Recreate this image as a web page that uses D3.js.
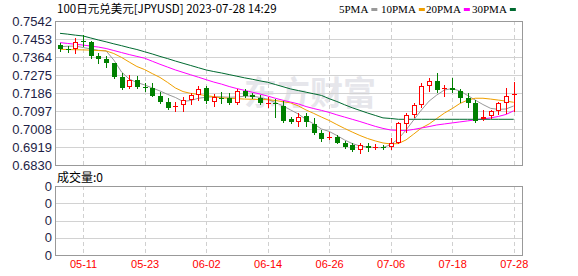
<!DOCTYPE html>
<html>
<head>
<meta charset="utf-8">
<script src="https://cdn.jsdelivr.net/npm/d3@7/dist/d3.min.js"></script>
<style>
body { margin: 0; background: #fff; }
</style>
</head>
<body>
<div id="chart"></div>
<script>
// trading days shown on the chart
var dates = ["05-08","05-09","05-10","05-11","05-12","05-15","05-16","05-17","05-18","05-19",
  "05-22","05-23","05-24","05-25","05-26","05-29","05-30","05-31","06-01","06-02",
  "06-05","06-06","06-07","06-08","06-09","06-12","06-13","06-14","06-15","06-16",
  "06-19","06-20","06-21","06-22","06-23","06-26","06-27","06-28","06-29","06-30",
  "07-03","07-04","07-05","07-06","07-07","07-10","07-11","07-12","07-13","07-14",
  "07-17","07-18","07-19","07-20","07-21","07-24","07-25","07-26","07-27","07-28"];

var openP  = [.7422,.7404,.7406,.7443,.7438,.7370,.7353,.7333,.7264,.7214,
  .7250,.7217,.7212,.7171,.7143,.7115,.7127,.7151,.7176,.7209,
  .7143,.7160,.7160,.7138,.7197,.7176,.7160,.7135,.7138,.7122,
  .7055,.7041,.7072,.7031,.6990,.6967,.6970,.6940,.6929,.6904,
  .6924,.6913,.6918,.6918,.6940,.7031,.7077,.7127,.7222,.7245,
  .7204,.7209,.7197,.7160,.7138,.7056,.7072,.7098,.7135,.7175];
var highP  = [.7435,.7418,.7457,.7475,.7442,.7382,.7369,.7336,.7286,.7275,
  .7270,.7234,.7237,.7192,.7160,.7140,.7168,.7185,.7221,.7221,
  .7181,.7189,.7187,.7204,.7206,.7187,.7176,.7165,.7155,.7148,
  .7067,.7086,.7086,.7061,.7003,.6995,.6978,.6949,.6937,.6937,
  .6940,.6934,.6929,.6962,.7044,.7086,.7138,.7237,.7259,.7283,
  .7226,.7259,.7204,.7185,.7151,.7102,.7102,.7143,.7209,.7242];
var lowP   = [.7395,.7390,.7385,.7416,.7359,.7336,.7316,.7259,.7206,.7209,
  .7209,.7197,.7171,.7135,.7105,.7098,.7098,.7130,.7151,.7138,
  .7122,.7135,.7132,.7132,.7168,.7160,.7130,.7118,.7069,.7041,
  .7040,.7024,.7023,.6983,.6950,.6959,.6937,.6916,.6901,.6891,
  .6901,.6908,.6908,.6908,.6937,.6995,.7066,.7118,.7197,.7189,
  .7173,.7189,.7143,.7118,.7044,.7053,.7061,.7082,.7086,.7098];
var closeP = [.7406,.7399,.7440,.7438,.7370,.7353,.7336,.7264,.7212,.7250,
  .7217,.7211,.7173,.7140,.7113,.7120,.7151,.7176,.7206,.7148,
  .7165,.7155,.7135,.7196,.7173,.7168,.7135,.7138,.7130,.7049,
  .7045,.7066,.7044,.6987,.6959,.6970,.6940,.6921,.6904,.6929,
  .6913,.6918,.6913,.6937,.7036,.7077,.7127,.7221,.7245,.7201,
  .7209,.7201,.7160,.7138,.7049,.7066,.7097,.7135,.7171,.7181];

var ma5  = [.7415,.7417,.7418,.7411,.7404,.7397,.7394,.7349,.7290,.7255,
  .7238,.7226,.7211,.7196,.7179,.7164,.7144,.7149,.7160,.7165,
  .7167,.7167,.7165,.7166,.7170,.7171,.7164,.7155,.7139,.7122,
  .7102,.7082,.7055,.7033,.7008,.6996,.6976,.6954,.6936,.6924,
  .6919,.6916,.6916,.6931,.6959,.7003,.7053,.7102,.7146,.7176,
  .7201,.7208,.7196,.7174,.7151,.7129,.7110,.7105,.7107,.7122];
var ma10 = [.7402,.7401,.7400,.7399,.7398,.7396,.7394,.7381,.7362,.7339,
  .7317,.7302,.7282,.7263,.7238,.7211,.7193,.7184,.7179,.7173,
  .7168,.7162,.7160,.7158,.7156,.7155,.7154,.7153,.7149,.7143,
  .7137,.7122,.7102,.7085,.7067,.7050,.7030,.7011,.6993,.6976,
  .6961,.6949,.6939,.6934,.6936,.6954,.6983,.7013,.7033,.7060,
  .7087,.7109,.7134,.7151,.7160,.7160,.7156,.7151,.7146,.7140];
var ma20 = [.7435,.7431,.7427,.7423,.7418,.7413,.7406,.7396,.7386,.7376,
  .7367,.7358,.7343,.7328,.7314,.7300,.7288,.7276,.7264,.7252,
  .7240,.7230,.7218,.7208,.7199,.7190,.7181,.7171,.7160,.7150,
  .7141,.7132,.7119,.7109,.7100,.7090,.7078,.7067,.7056,.7045,
  .7033,.7021,.7011,.7003,.7001,.7000,.7006,.7013,.7020,.7028,
  .7033,.7038,.7043,.7048,.7053,.7058,.7063,.7070,.7080,.7098];
var ma30 = [.7481,.7477,.7472,.7468,.7458,.7448,.7439,.7429,.7420,.7410,
  .7401,.7390,.7379,.7367,.7356,.7344,.7333,.7322,.7311,.7300,
  .7292,.7285,.7277,.7269,.7261,.7254,.7246,.7239,.7228,.7217,
  .7206,.7198,.7190,.7182,.7174,.7158,.7144,.7128,.7113,.7100,
  .7087,.7075,.7063,.7060,.7056,.7056,.7056,.7056,.7056,.7056,
  .7056,.7056,.7056,.7056,.7056,.7056,.7056,.7056,.7056,.7056];

var volume = [0,0,0,0,0,0,0,0,0,0, 0,0,0,0,0,0,0,0,0,0, 0,0,0,0,0,0,0,0,0,0,
  0,0,0,0,0,0,0,0,0,0, 0,0,0,0,0,0,0,0,0,0, 0,0,0,0,0,0,0,0,0,0];

var priceTicks = [0.7542, 0.7453, 0.7364, 0.7275, 0.7186, 0.7097, 0.7008, 0.6919, 0.6830];
var dateTicks = ["05-11","05-23","06-02","06-14","06-26","07-06","07-18","07-28"];
var volTicks = [0, 1, 2, 3, 4];
var volTickLabels = ["0","0","0","0","0"];
var maNames = ["5PMA","10PMA","20PMA","30PMA"];
var maColors = ["#999999","#f0a000","#ff00ff","#006a30"];

var W = 578, H = 276;
var left = 55, right = 522, top1 = 21, bot1 = 165, top2 = 186, bot2 = 255;
var UP = "#ff0000", DOWN = "#008000";
var labelFont = "'Liberation Sans', Arial, sans-serif";
var cjkFont = "'Noto Sans CJK SC', 'Liberation Sans', sans-serif";

var svg = d3.select("#chart").append("svg")
  .attr("width", W).attr("height", H)
  .style("font-family", labelFont);

var x = d3.scalePoint().domain(dates).range([60, 513.7]);
var y = d3.scaleLinear().domain([0.6830, 0.7542]).range([bot1, top1]);
var yv = d3.scaleLinear().domain([0, 4]).range([bot2, top2]);

// watermark
svg.append("text")
  .attr("x", 244).attr("y", 105)
  .style("font-family", cjkFont)
  .style("font-size", "33px")
  .style("font-weight", "bold")
  .attr("fill", "#e6e6eb")
  .text("东方财富");

// horizontal grid
svg.append("g").selectAll("line")
  .data(priceTicks.slice(1, -1))
  .enter().append("line")
    .attr("x1", left).attr("x2", right)
    .attr("y1", function(d) { return Math.round(y(d)) + 0.5; })
    .attr("y2", function(d) { return Math.round(y(d)) + 0.5; })
    .attr("stroke", "#d2d2d2");
svg.append("g").selectAll("line")
  .data(volTicks.slice(1, -1))
  .enter().append("line")
    .attr("x1", left).attr("x2", right)
    .attr("y1", function(d) { return Math.round(yv(d)) + 0.5; })
    .attr("y2", function(d) { return Math.round(yv(d)) + 0.5; })
    .attr("stroke", "#d2d2d2");

// vertical dashed grid, both panels
[[top1, bot1], [top2, bot2]].forEach(function(p) {
  svg.append("g").selectAll("line")
    .data(dateTicks)
    .enter().append("line")
      .attr("x1", function(d) { return Math.round(x(d)) + 0.5; })
      .attr("x2", function(d) { return Math.round(x(d)) + 0.5; })
      .attr("y1", p[0]).attr("y2", p[1])
      .attr("stroke", "#d0d0d0")
      .attr("stroke-dasharray", "4,3");
});

// moving averages
var maList = [ma5, ma10, ma20, ma30];
maList.forEach(function(ma, k) {
  svg.append("path")
    .datum(ma)
    .attr("fill", "none")
    .attr("stroke", maColors[k])
    .attr("stroke-width", 1)
    .attr("d", d3.line()
      .x(function(d, i) { return x(dates[i]); })
      .y(function(d) { return y(d); }));
});

// candles
var candles = svg.append("g").selectAll("g")
  .data(dates)
  .enter().append("g");

candles.each(function(d, i) {
  var g = d3.select(this);
  var up = closeP[i] >= openP[i];
  var col = up ? UP : DOWN;
  var px = Math.round(x(d));
  var yTop = Math.round(y(Math.max(openP[i], closeP[i])));
  var yBot = Math.round(y(Math.min(openP[i], closeP[i])));
  g.append("line")
    .attr("x1", px + 0.5).attr("x2", px + 0.5)
    .attr("y1", Math.round(y(highP[i]))).attr("y2", Math.round(y(lowP[i])) + 1)
    .attr("stroke", col);
  if (yBot - yTop < 2) {
    g.append("rect")
      .attr("x", px - 2).attr("width", 5)
      .attr("y", yTop).attr("height", Math.max(1, yBot - yTop))
      .attr("fill", col);
  } else if (up) {
    g.append("rect")
      .attr("x", px - 1.5).attr("width", 4)
      .attr("y", yTop + 0.5).attr("height", yBot - yTop - 1)
      .attr("fill", "#fff").attr("stroke", col);
  } else {
    g.append("rect")
      .attr("x", px - 2).attr("width", 5)
      .attr("y", yTop).attr("height", yBot - yTop)
      .attr("fill", col);
  }
});

// volume bars (all zero)
svg.append("g").selectAll("rect")
  .data(volume)
  .enter().append("rect")
    .attr("x", function(d, i) { return Math.round(x(dates[i])) - 2; })
    .attr("width", 5)
    .attr("y", function(d) { return yv(d); })
    .attr("height", function(d) { return bot2 - yv(d); })
    .attr("fill", DOWN);

// panel frames
svg.append("rect")
  .attr("x", left + 0.5).attr("y", top1 + 0.5)
  .attr("width", right - left).attr("height", bot1 - top1)
  .attr("fill", "none").attr("stroke", "#999");
svg.append("rect")
  .attr("x", left + 0.5).attr("y", top2 + 0.5)
  .attr("width", right - left).attr("height", bot2 - top2)
  .attr("fill", "none").attr("stroke", "#999");

// price axis
var yAxis = svg.append("g")
  .attr("transform", "translate(" + left + ",0)")
  .call(d3.axisLeft(y).tickValues(priceTicks).tickSize(0).tickPadding(3)
    .tickFormat(d3.format(".4f")));
yAxis.select(".domain").remove();
yAxis.selectAll("text")
  .style("font-size", "13px")
  .style("font-family", labelFont)
  .attr("fill", "#1e1e46");

// volume axis
var vAxis = svg.append("g")
  .attr("transform", "translate(" + left + ",0)")
  .call(d3.axisLeft(yv).tickValues(volTicks).tickSize(0).tickPadding(3)
    .tickFormat(function(d, i) { return volTickLabels[i]; }));
vAxis.select(".domain").remove();
vAxis.selectAll("text")
  .style("font-size", "13px")
  .style("font-family", labelFont)
  .attr("fill", "#1e1e46");

// date axis
var xAxis = svg.append("g")
  .attr("transform", "translate(0," + bot2 + ")")
  .call(d3.axisBottom(x).tickValues(dateTicks).tickSize(0).tickPadding(5));
xAxis.select(".domain").remove();
xAxis.selectAll("text")
  .style("font-size", "11px")
  .style("font-family", labelFont)
  .attr("fill", "#ff0000");

// title
svg.append("text")
  .attr("x", 57).attr("y", 13)
  .style("font-family", cjkFont)
  .style("font-size", "11.5px")
  .attr("fill", "#000")
  .text("100日元兑美元[JPYUSD] 2023-07-28 14:29");

// volume title
svg.append("text")
  .attr("x", 57).attr("y", 182)
  .style("font-family", cjkFont)
  .style("font-size", "12px")
  .attr("fill", "#000")
  .text("成交量:0");

// legend
var legendX = [339, 381, 426, 472];
var legend = svg.append("g");
maNames.forEach(function(n, k) {
  var t = legend.append("text")
    .attr("x", legendX[k]).attr("y", 13)
    .style("font-family", "'Liberation Serif', serif")
    .style("font-size", "11px")
    .attr("fill", "#000")
    .text(n);
  var w = t.node().getComputedTextLength();
  legend.append("rect")
    .attr("x", legendX[k] + w + 3).attr("y", 8)
    .attr("width", 6).attr("height", 3)
    .attr("fill", maColors[k]);
});
</script>
</body>
</html>
